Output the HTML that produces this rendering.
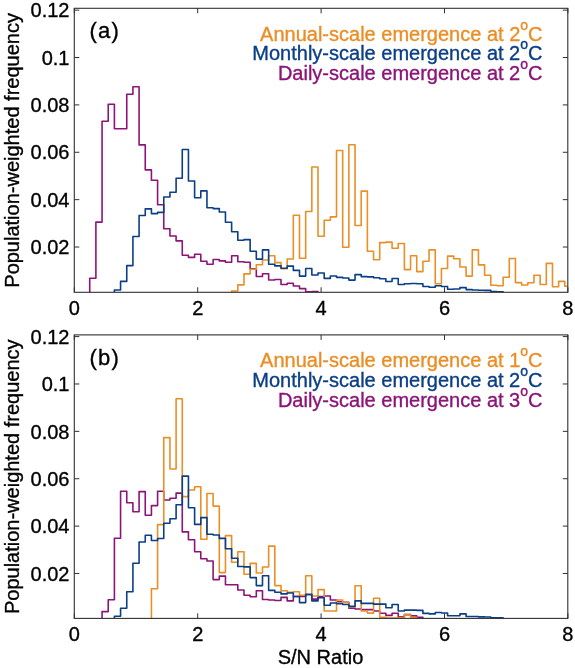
<!DOCTYPE html>
<html><head><meta charset="utf-8"><style>
html,body{margin:0;padding:0;background:#fff;}
body{width:575px;height:668px;overflow:hidden;}
svg{display:block;will-change:transform;}
.t{font-family:"Liberation Sans",sans-serif;font-size:20px;fill:#000;stroke:#000;stroke-width:0.35px;}
</style></head><body>
<svg width="575" height="668" viewBox="0 0 575 668">
<clipPath id="ca"><rect x="74.30" y="8.30" width="493.50" height="284.00"/></clipPath>
<g clip-path="url(#ca)" fill="none" stroke-width="1.60" stroke-linejoin="round">
<path stroke="#8C1478" d="M89.72 294.40 L89.72 278.30 L95.89 278.30 L95.89 222.10 L102.06 222.10 L102.06 121.30 L108.23 121.30 L108.23 104.30 L114.41 104.30 L114.41 128.70 L120.57 128.70 L120.57 128.70 L126.75 128.70 L126.75 94.30 L132.91 94.30 L132.91 86.70 L139.08 86.70 L139.08 144.90 L145.25 144.90 L145.25 169.90 L151.43 169.90 L151.43 180.30 L157.59 180.30 L157.59 204.70 L163.76 204.70 L163.76 228.70 L169.94 228.70 L169.94 236.00 L176.10 236.00 L176.10 240.90 L182.27 240.90 L182.27 255.30 L188.44 255.30 L188.44 257.40 L194.62 257.40 L194.62 254.30 L200.78 254.30 L200.78 261.20 L206.95 261.20 L206.95 264.30 L213.12 264.30 L213.12 259.50 L219.30 259.50 L219.30 260.90 L225.46 260.90 L225.46 262.30 L231.63 262.30 L231.63 255.70 L237.81 255.70 L237.81 261.70 L243.98 261.70 L243.98 262.30 L250.14 262.30 L250.14 268.70 L256.31 268.70 L256.31 276.50 L262.49 276.50 L262.49 273.70 L268.65 273.70 L268.65 280.00 L274.82 280.00 L274.82 279.50 L281.00 279.50 L281.00 284.50 L287.17 284.50 L287.17 283.20 L293.33 283.20 L293.33 286.00 L299.50 286.00 L299.50 288.60 L305.68 288.60 L305.68 291.80 L311.84 291.80 L311.84 291.60 L318.01 291.60 L318.01 294.40"/>
<path stroke="#EA8E26" d="M231.63 294.40 L231.63 291.00 L237.81 291.00 L237.81 284.90 L243.98 284.90 L243.98 273.90 L250.14 273.90 L250.14 269.20 L256.31 269.20 L256.31 264.70 L262.49 264.70 L262.49 260.00 L268.65 260.00 L268.65 255.70 L274.82 255.70 L274.82 262.60 L281.00 262.60 L281.00 268.70 L287.17 268.70 L287.17 259.00 L293.33 259.00 L293.33 215.20 L299.50 215.20 L299.50 258.30 L305.68 258.30 L305.68 211.50 L311.84 211.50 L311.84 167.00 L318.01 167.00 L318.01 236.20 L324.19 236.20 L324.19 220.30 L330.36 220.30 L330.36 216.90 L336.53 216.90 L336.53 150.50 L342.69 150.50 L342.69 247.30 L348.87 247.30 L348.87 144.80 L355.04 144.80 L355.04 225.50 L361.20 225.50 L361.20 191.10 L367.38 191.10 L367.38 251.30 L373.55 251.30 L373.55 259.70 L379.72 259.70 L379.72 242.60 L385.88 242.60 L385.88 242.10 L392.06 242.10 L392.06 248.30 L398.23 248.30 L398.23 243.50 L404.39 243.50 L404.39 269.60 L410.56 269.60 L410.56 255.70 L416.74 255.70 L416.74 271.60 L422.91 271.60 L422.91 261.30 L429.07 261.30 L429.07 249.90 L435.25 249.90 L435.25 283.70 L441.42 283.70 L441.42 268.50 L447.58 268.50 L447.58 256.10 L453.75 256.10 L453.75 258.70 L459.93 258.70 L459.93 267.00 L466.10 267.00 L466.10 276.10 L472.26 276.10 L472.26 249.90 L478.44 249.90 L478.44 264.90 L484.61 264.90 L484.61 275.30 L490.78 275.30 L490.78 285.30 L496.94 285.30 L496.94 285.70 L503.12 285.70 L503.12 277.30 L509.29 277.30 L509.29 258.50 L515.45 258.50 L515.45 282.60 L521.62 282.60 L521.62 285.00 L527.79 285.00 L527.79 282.70 L533.97 282.70 L533.97 275.30 L540.13 275.30 L540.13 284.50 L546.30 284.50 L546.30 263.40 L552.48 263.40 L552.48 286.80 L558.64 286.80 L558.64 281.40 L564.81 281.40 L564.81 286.20 L567.80 286.20"/>
<path stroke="#0A3E86" d="M114.41 294.40 L114.41 290.00 L120.57 290.00 L120.57 281.40 L126.75 281.40 L126.75 265.60 L132.91 265.60 L132.91 236.50 L139.08 236.50 L139.08 215.50 L145.25 215.50 L145.25 208.90 L151.43 208.90 L151.43 213.60 L157.59 213.60 L157.59 212.40 L163.76 212.40 L163.76 197.00 L169.94 197.00 L169.94 192.30 L176.10 192.30 L176.10 178.30 L182.27 178.30 L182.27 149.50 L188.44 149.50 L188.44 181.00 L194.62 181.00 L194.62 197.80 L200.78 197.80 L200.78 190.90 L206.95 190.90 L206.95 207.70 L213.12 207.70 L213.12 208.60 L219.30 208.60 L219.30 212.00 L225.46 212.00 L225.46 222.20 L231.63 222.20 L231.63 231.80 L237.81 231.80 L237.81 240.30 L243.98 240.30 L243.98 239.60 L250.14 239.60 L250.14 251.30 L256.31 251.30 L256.31 259.10 L262.49 259.10 L262.49 249.90 L268.65 249.90 L268.65 264.20 L274.82 264.20 L274.82 265.90 L281.00 265.90 L281.00 268.20 L287.17 268.20 L287.17 266.10 L293.33 266.10 L293.33 270.40 L299.50 270.40 L299.50 276.10 L305.68 276.10 L305.68 268.50 L311.84 268.50 L311.84 275.00 L318.01 275.00 L318.01 273.00 L324.19 273.00 L324.19 278.40 L330.36 278.40 L330.36 276.00 L336.53 276.00 L336.53 277.40 L342.69 277.40 L342.69 278.00 L348.87 278.00 L348.87 280.10 L355.04 280.10 L355.04 274.60 L361.20 274.60 L361.20 276.60 L367.38 276.60 L367.38 276.90 L373.55 276.90 L373.55 277.80 L379.72 277.80 L379.72 278.70 L385.88 278.70 L385.88 281.50 L392.06 281.50 L392.06 278.50 L398.23 278.50 L398.23 284.50 L404.39 284.50 L404.39 283.80 L410.56 283.80 L410.56 283.50 L416.74 283.50 L416.74 283.80 L422.91 283.80 L422.91 286.50 L429.07 286.50 L429.07 287.20 L435.25 287.20 L435.25 285.80 L441.42 285.80 L441.42 286.50 L447.58 286.50 L447.58 289.30 L453.75 289.30 L453.75 289.00 L459.93 289.00 L459.93 287.60 L466.10 287.60 L466.10 289.60 L472.26 289.60 L472.26 290.00 L478.44 290.00 L478.44 290.30 L484.61 290.30 L484.61 290.40 L490.78 290.40 L490.78 291.50 L496.94 291.50 L496.94 291.70 L503.12 291.70 L503.12 294.40"/>
</g>
<rect x="74.30" y="8.30" width="493.50" height="284.00" fill="none" stroke="#303030" stroke-width="1.1"/>
<path stroke="#303030" stroke-width="1" fill="none" d="M74.30 292.30 V287.30 M74.30 8.30 V13.30 M197.70 292.30 V287.30 M197.70 8.30 V13.30 M321.10 292.30 V287.30 M321.10 8.30 V13.30 M444.50 292.30 V287.30 M444.50 8.30 V13.30 M567.90 292.30 V287.30 M567.90 8.30 V13.30 M74.30 247.02 H79.30 M567.80 247.02 H562.80 M74.30 199.65 H79.30 M567.80 199.65 H562.80 M74.30 152.27 H79.30 M567.80 152.27 H562.80 M74.30 104.90 H79.30 M567.80 104.90 H562.80 M74.30 57.52 H79.30 M567.80 57.52 H562.80 M74.30 10.15 H79.30 M567.80 10.15 H562.80"/>
<text x="74.30" y="314.80" text-anchor="middle" class="t">0</text>
<text x="197.70" y="314.80" text-anchor="middle" class="t">2</text>
<text x="321.10" y="314.80" text-anchor="middle" class="t">4</text>
<text x="444.50" y="314.80" text-anchor="middle" class="t">6</text>
<text x="567.90" y="314.80" text-anchor="middle" class="t">8</text>
<text x="69.50" y="254.22" text-anchor="end" class="t">0.02</text>
<text x="69.50" y="206.85" text-anchor="end" class="t">0.04</text>
<text x="69.50" y="159.47" text-anchor="end" class="t">0.06</text>
<text x="69.50" y="112.10" text-anchor="end" class="t">0.08</text>
<text x="69.50" y="64.72" text-anchor="end" class="t">0.1</text>
<text x="69.50" y="17.35" text-anchor="end" class="t">0.12</text>
<text transform="translate(18.8 150.40) rotate(-90)" text-anchor="middle" class="t">Population-weighted frequency</text>
<text x="89.6" y="38.20" class="t" style="font-size:22px;letter-spacing:1.2px">(a)</text>
<text x="542.5" y="40.60" text-anchor="end" class="t" style="fill:#EA8E26;stroke:#EA8E26">Annual-scale emergence at 2<tspan dy="-11" style="font-size:14px">o</tspan><tspan dy="11">C</tspan></text>
<text x="542.5" y="60.40" text-anchor="end" class="t" style="fill:#0A3E86;stroke:#0A3E86">Monthly-scale emergence at 2<tspan dy="-11" style="font-size:14px">o</tspan><tspan dy="11">C</tspan></text>
<text x="542.5" y="80.20" text-anchor="end" class="t" style="fill:#8C1478;stroke:#8C1478">Daily-scale emergence at 2<tspan dy="-11" style="font-size:14px">o</tspan><tspan dy="11">C</tspan></text>
<clipPath id="cb"><rect x="74.30" y="334.90" width="493.50" height="283.50"/></clipPath>
<g clip-path="url(#cb)" fill="none" stroke-width="1.60" stroke-linejoin="round">
<path stroke="#8C1478" d="M102.06 620.85 L102.06 611.60 L108.23 611.60 L108.23 599.80 L114.41 599.80 L114.41 538.20 L120.57 538.20 L120.57 491.30 L126.75 491.30 L126.75 502.70 L132.91 502.70 L132.91 511.70 L139.08 511.70 L139.08 491.60 L145.25 491.60 L145.25 515.20 L151.43 515.20 L151.43 505.60 L157.59 505.60 L157.59 491.30 L163.76 491.30 L163.76 500.00 L169.94 500.00 L169.94 498.30 L176.10 498.30 L176.10 493.10 L182.27 493.10 L182.27 531.90 L188.44 531.90 L188.44 539.80 L194.62 539.80 L194.62 551.70 L200.78 551.70 L200.78 558.70 L206.95 558.70 L206.95 561.00 L213.12 561.00 L213.12 579.60 L219.30 579.60 L219.30 576.10 L225.46 576.10 L225.46 584.80 L231.63 584.80 L231.63 584.80 L237.81 584.80 L237.81 590.00 L243.98 590.00 L243.98 595.20 L250.14 595.20 L250.14 596.80 L256.31 596.80 L256.31 590.80 L262.49 590.80 L262.49 599.50 L268.65 599.50 L268.65 600.00 L274.82 600.00 L274.82 600.50 L281.00 600.50 L281.00 597.40 L287.17 597.40 L287.17 600.90 L293.33 600.90 L293.33 596.50 L299.50 596.50 L299.50 596.50 L305.68 596.50 L305.68 594.80 L311.84 594.80 L311.84 599.10 L318.01 599.10 L318.01 596.50 L324.19 596.50 L324.19 596.00 L330.36 596.00 L330.36 600.00 L336.53 600.00 L336.53 601.70 L342.69 601.70 L342.69 602.30 L348.87 602.30 L348.87 608.20 L355.04 608.20 L355.04 609.00 L361.20 609.00 L361.20 609.60 L367.38 609.60 L367.38 609.60 L373.55 609.60 L373.55 611.00 L379.72 611.00 L379.72 613.30 L385.88 613.30 L385.88 615.40 L392.06 615.40 L392.06 613.30 L398.23 613.30 L398.23 616.90 L404.39 616.90 L404.39 614.60 L410.56 614.60 L410.56 615.90 L416.74 615.90 L416.74 617.40 L422.91 617.40 L422.91 620.85"/>
<path stroke="#EA8E26" d="M151.43 620.85 L151.43 588.70 L157.59 588.70 L157.59 524.60 L163.76 524.60 L163.76 437.60 L169.94 437.60 L169.94 469.00 L176.10 469.00 L176.10 398.80 L182.27 398.80 L182.27 496.60 L188.44 496.60 L188.44 490.00 L194.62 490.00 L194.62 486.80 L200.78 486.80 L200.78 539.20 L206.95 539.20 L206.95 493.50 L213.12 493.50 L213.12 506.10 L219.30 506.10 L219.30 572.60 L225.46 572.60 L225.46 535.60 L231.63 535.60 L231.63 562.20 L237.81 562.20 L237.81 551.70 L243.98 551.70 L243.98 574.30 L250.14 574.30 L250.14 563.40 L256.31 563.40 L256.31 573.00 L262.49 573.00 L262.49 567.00 L268.65 567.00 L268.65 546.10 L274.82 546.10 L274.82 585.60 L281.00 585.60 L281.00 590.80 L287.17 590.80 L287.17 592.20 L293.33 592.20 L293.33 591.80 L299.50 591.80 L299.50 595.30 L305.68 595.30 L305.68 575.70 L311.84 575.70 L311.84 596.00 L318.01 596.00 L318.01 589.60 L324.19 589.60 L324.19 611.00 L330.36 611.00 L330.36 611.00 L336.53 611.00 L336.53 600.00 L342.69 600.00 L342.69 602.50 L348.87 602.50 L348.87 606.90 L355.04 606.90 L355.04 585.70 L361.20 585.70 L361.20 611.00 L367.38 611.00 L367.38 613.10 L373.55 613.10 L373.55 598.20 L379.72 598.20 L379.72 617.30 L385.88 617.30 L385.88 618.00 L392.06 618.00 L392.06 618.00 L398.23 618.00 L398.23 617.50 L404.39 617.50 L404.39 614.50 L410.56 614.50 L410.56 617.30 L416.74 617.30 L416.74 620.85"/>
<path stroke="#0A3E86" d="M114.41 620.85 L114.41 616.20 L120.57 616.20 L120.57 608.20 L126.75 608.20 L126.75 591.70 L132.91 591.70 L132.91 563.20 L139.08 563.20 L139.08 542.00 L145.25 542.00 L145.25 535.30 L151.43 535.30 L151.43 540.50 L157.59 540.50 L157.59 538.50 L163.76 538.50 L163.76 523.30 L169.94 523.30 L169.94 518.70 L176.10 518.70 L176.10 504.80 L182.27 504.80 L182.27 476.10 L188.44 476.10 L188.44 507.70 L194.62 507.70 L194.62 524.40 L200.78 524.40 L200.78 517.60 L206.95 517.60 L206.95 534.30 L213.12 534.30 L213.12 535.00 L219.30 535.00 L219.30 538.40 L225.46 538.40 L225.46 548.80 L231.63 548.80 L231.63 558.20 L237.81 558.20 L237.81 566.50 L243.98 566.50 L243.98 566.90 L250.14 566.90 L250.14 577.60 L256.31 577.60 L256.31 585.60 L262.49 585.60 L262.49 575.70 L268.65 575.70 L268.65 590.40 L274.82 590.40 L274.82 592.20 L281.00 592.20 L281.00 593.90 L287.17 593.90 L287.17 593.00 L293.33 593.00 L293.33 596.50 L299.50 596.50 L299.50 602.60 L305.68 602.60 L305.68 594.30 L311.84 594.30 L311.84 600.90 L318.01 600.90 L318.01 597.70 L324.19 597.70 L324.19 605.20 L330.36 605.20 L330.36 603.00 L336.53 603.00 L336.53 603.70 L342.69 603.70 L342.69 604.50 L348.87 604.50 L348.87 606.40 L355.04 606.40 L355.04 600.90 L361.20 600.90 L361.20 603.40 L367.38 603.40 L367.38 603.40 L373.55 603.40 L373.55 604.10 L379.72 604.10 L379.72 604.10 L385.88 604.10 L385.88 607.80 L392.06 607.80 L392.06 604.50 L398.23 604.50 L398.23 611.00 L404.39 611.00 L404.39 610.10 L410.56 610.10 L410.56 610.10 L416.74 610.10 L416.74 610.40 L422.91 610.40 L422.91 613.40 L429.07 613.40 L429.07 613.90 L435.25 613.90 L435.25 612.50 L441.42 612.50 L441.42 613.00 L447.58 613.00 L447.58 615.70 L453.75 615.70 L453.75 615.70 L459.93 615.70 L459.93 613.90 L466.10 613.90 L466.10 616.50 L472.26 616.50 L472.26 616.50 L478.44 616.50 L478.44 616.90 L484.61 616.90 L484.61 617.00 L490.78 617.00 L490.78 617.90 L496.94 617.90 L496.94 617.90 L503.12 617.90 L503.12 620.85"/>
</g>
<rect x="74.30" y="334.90" width="493.50" height="283.50" fill="none" stroke="#303030" stroke-width="1.1"/>
<path stroke="#303030" stroke-width="1" fill="none" d="M74.30 618.40 V613.40 M74.30 334.90 V339.90 M197.70 618.40 V613.40 M197.70 334.90 V339.90 M321.10 618.40 V613.40 M321.10 334.90 V339.90 M444.50 618.40 V613.40 M444.50 334.90 V339.90 M567.90 618.40 V613.40 M567.90 334.90 V339.90 M74.30 573.48 H79.30 M567.80 573.48 H562.80 M74.30 526.10 H79.30 M567.80 526.10 H562.80 M74.30 478.73 H79.30 M567.80 478.73 H562.80 M74.30 431.35 H79.30 M567.80 431.35 H562.80 M74.30 383.98 H79.30 M567.80 383.98 H562.80 M74.30 336.60 H79.30 M567.80 336.60 H562.80"/>
<text x="74.30" y="640.90" text-anchor="middle" class="t">0</text>
<text x="197.70" y="640.90" text-anchor="middle" class="t">2</text>
<text x="321.10" y="640.90" text-anchor="middle" class="t">4</text>
<text x="444.50" y="640.90" text-anchor="middle" class="t">6</text>
<text x="567.90" y="640.90" text-anchor="middle" class="t">8</text>
<text x="69.50" y="580.68" text-anchor="end" class="t">0.02</text>
<text x="69.50" y="533.30" text-anchor="end" class="t">0.04</text>
<text x="69.50" y="485.93" text-anchor="end" class="t">0.06</text>
<text x="69.50" y="438.55" text-anchor="end" class="t">0.08</text>
<text x="69.50" y="391.18" text-anchor="end" class="t">0.1</text>
<text x="69.50" y="343.80" text-anchor="end" class="t">0.12</text>
<text transform="translate(18.8 476.75) rotate(-90)" text-anchor="middle" class="t">Population-weighted frequency</text>
<text x="89.6" y="364.80" class="t" style="font-size:22px;letter-spacing:1.2px">(b)</text>
<text x="542.5" y="367.20" text-anchor="end" class="t" style="fill:#EA8E26;stroke:#EA8E26">Annual-scale emergence at 1<tspan dy="-11" style="font-size:14px">o</tspan><tspan dy="11">C</tspan></text>
<text x="542.5" y="387.00" text-anchor="end" class="t" style="fill:#0A3E86;stroke:#0A3E86">Monthly-scale emergence at 2<tspan dy="-11" style="font-size:14px">o</tspan><tspan dy="11">C</tspan></text>
<text x="542.5" y="406.80" text-anchor="end" class="t" style="fill:#8C1478;stroke:#8C1478">Daily-scale emergence at 3<tspan dy="-11" style="font-size:14px">o</tspan><tspan dy="11">C</tspan></text>
<text x="320.5" y="664.3" text-anchor="middle" class="t">S/N Ratio</text>
</svg>
</body></html>
